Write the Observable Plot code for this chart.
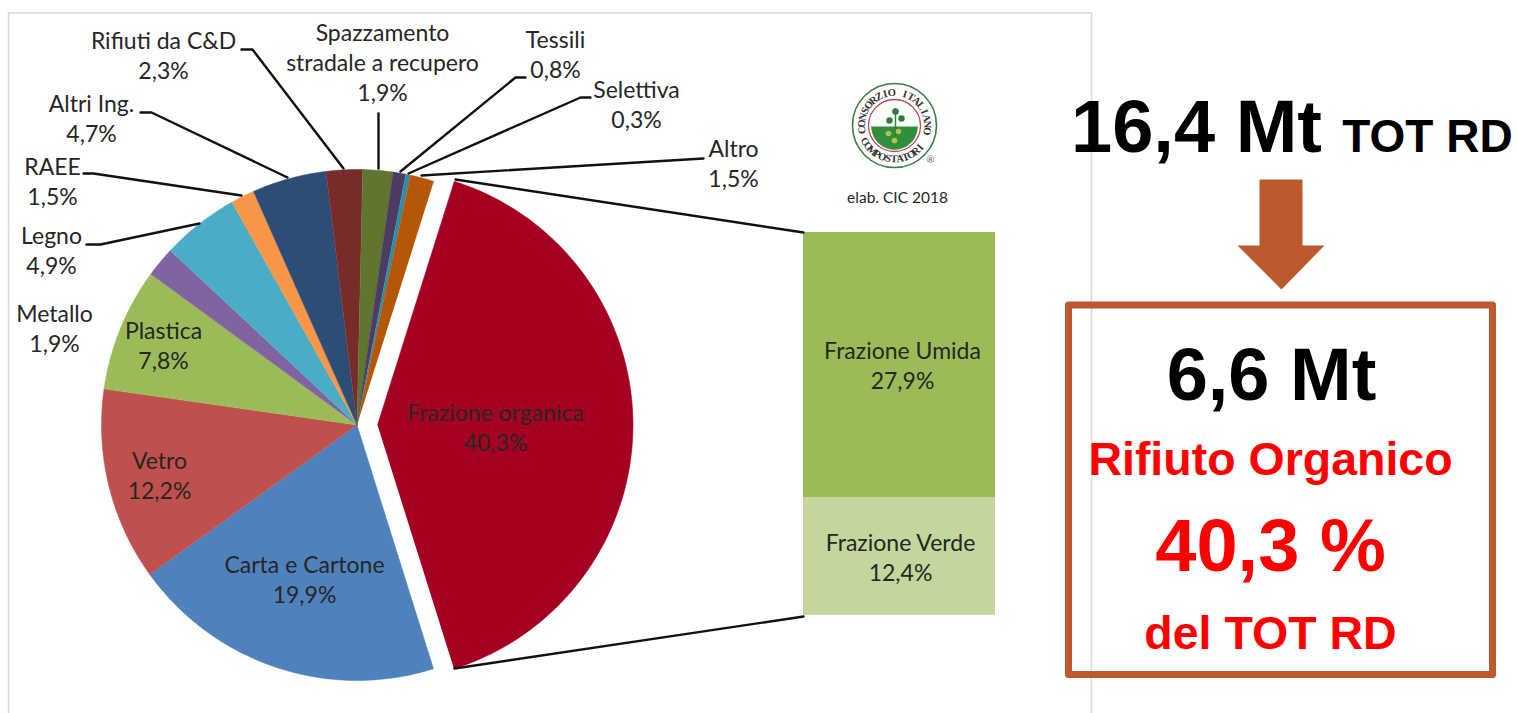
<!DOCTYPE html>
<html><head><meta charset="utf-8">
<script src="https://cdn.jsdelivr.net/npm/d3@7"></script>
<script src="https://cdn.jsdelivr.net/npm/@observablehq/plot@0.6"></script>
<style>html,body{margin:0;padding:0;background:#fff;overflow:hidden}svg{display:block}</style>
</head><body><div id="chart"></div>
<script>
// ---- data ----
const categories = ["Frazione organica","Carta e Cartone","Vetro","Plastica","Metallo","Legno","RAEE","Altri Ing.","Rifiuti da C&D","Spazzamento stradale a recupero","Tessili","Selettiva","Altro"];
const shares = [40.3,19.9,12.2,7.8,1.9,4.9,1.5,4.7,2.3,1.9,0.8,0.3,1.5];
const sliceColors = ["#A50021","#4F81BD","#C0504D","#9BBB59","#8064A2","#4BACC6","#F79646","#2C4D75","#772C2A","#5F7530","#4D3B62","#2C8FA8","#B65708"];
const breakdownNames = ["Frazione Umida","Frazione Verde"];
const breakdownShares = [27.9,12.4];
const breakdownColors = ["#9BBB59","#C3D69B"];
const totalLabel = "16,4 Mt", totalSuffix = "TOT RD";
const organicLabel = "6,6 Mt", organicTitle = "Rifiuto Organico", organicShare = "40,3 %", organicSuffix = "del TOT RD";
const sourceNote = "elab. CIC 2018";

// ---- layout (pixels of the picture, used as the scale domains) ----
const W = 1517, H = 713;
const cx = 356.5, cy = 424.5, R = 255.5, explode = 20.5, startDeg = 17.5;
const barX = [803,995], barTop = 232, pxPerPct = 9.5;
const dark = "#262626", rust = "#BC5A2D", font = "Lato, sans-serif", heavy = "Liberation Sans, Arial, sans-serif";
const labelLayout = [
  ["Rifiuti da C&D\n2,3%",163,54],["Spazzamento\nstradale a recupero\n1,9%",382,61],["Tessili\n0,8%",555,53],
  ["Selettiva\n0,3%",636,103],["Altro\n1,5%",733,162],["Altri Ing.\n4,7%",91,117],["RAEE\n1,5%",52,180],
  ["Legno\n4,9%",51,249],["Metallo\n1,9%",54,327],["Plastica\n7,8%",163,344],["Vetro\n12,2%",159,474],
  ["Carta e Cartone\n19,9%",304,578],["Frazione organica\n40,3%",495,426],["Frazione Umida\n27,9%",902,364],["Frazione Verde\n12,4%",900,556]
];
const leaderLayout = [
  [[241,49],[252,49],[343,168]],[[140,112],[151,112],[287,177]],[[83,173],[93,173],[241,195]],
  [[86,244],[100,244],[199,223]],[[378,113],[378,168]],[[525,77],[515,77],[400,171]],
  [[590,97],[580,97],[408,173]],[[703,158],[421,175]],[[455,179],[803,232]],[[454,668],[803,616]]
];
const arrowOutline = [[1259,179],[1302,179],[1302,245],[1324,245],[1281,289],[1237,245],[1259,245]];

// ---- derived tables ----
const total = d3.sum(shares);
let acc = startDeg;
const slicePts = [];
categories.forEach((name,i)=>{
  const a0 = acc, a1 = acc + shares[i]/total*360; acc = a1;
  const off = i===0 ? explode : 0;
  const steps = Math.max(2,Math.ceil(a1-a0));
  slicePts.push({name,x:cx+off,y:cy});
  for(let k=0;k<=steps;k++){
    const a=(a0+(a1-a0)*k/steps)*Math.PI/180;
    slicePts.push({name,x:cx+off+R*Math.sin(a),y:cy-R*Math.cos(a)});
  }
});
let cum=0;
const bars = breakdownNames.map((name,i)=>{const d={name,y1:barTop+cum*pxPerPct,y2:barTop+(cum+breakdownShares[i])*pxPerPct};cum+=breakdownShares[i];return d;});
const leaders = leaderLayout.flatMap((p,i)=>p.map(([x,y])=>({i,x,y})));
const arrow = arrowOutline.map(([x,y])=>({x,y}));

// logo
const lx=894, ly=125;
const ringText=(s,a0,a1,r,flip)=>[...s].map((c,i)=>{
  const a=a0+(a1-a0)*i/(s.length-1), t=a*Math.PI/180;
  return {c,x:lx+r*Math.sin(t),y:ly-r*Math.cos(t),a:flip?a-180:a};
}).filter(d=>d.c!==" ");
const letters=[...ringText("CONSORZIO ITALIANO",-98,100,33,false),...ringText("COMPOSTATORI",242,130,33.5,true)];
const halfDisc=d3.range(90,271,6).map(a=>({x:lx+23*Math.sin(a*Math.PI/180),y:ly+1-23*Math.cos(a*Math.PI/180)}));
const leaves=[{x:895,y:111,r:4.2},{x:889,y:120,r:4},{x:901,y:118,r:4}];
const seeds=[{x:888,y:133,r:3},{x:898,y:131,r:3},{x:894,y:140,r:3.2}];

const txt=(s,x,y,o={})=>Plot.text([s],{x:()=>x,y:()=>y,text:d=>d,fontFamily:font,fontSize:23,fill:dark,textAnchor:"middle",lineAnchor:"middle",lineHeight:1.3,...o});
const big={fontFamily:heavy,fontWeight:700,fontSize:74,fill:"#000"};
const mid={fontFamily:heavy,fontWeight:700,fontSize:46.5,fill:"#f00"};

const plot = Plot.plot({
  width:W,height:H,margin:0,
  x:{domain:[0,W],range:[0,W],axis:null},
  y:{domain:[0,H],range:[0,H],axis:null},
  color:{type:"ordinal",domain:[...categories,...breakdownNames],range:[...sliceColors,...breakdownColors]},
  style:{background:"#fff"},
  marks:[
    Plot.ruleX([8,1091],{x:d=>d,y1:12,y2:H,stroke:"#d9d9d9",strokeWidth:1.5}),
    Plot.ruleY([12.5],{y:d=>d,x1:8,x2:1091,stroke:"#d9d9d9",strokeWidth:1.5}),
    Plot.line(slicePts,{x:"x",y:"y",z:"name",fill:"name",stroke:"name",strokeWidth:0.5}),
    Plot.rect(bars,{x1:barX[0],x2:barX[1],y1:"y1",y2:"y2",fill:"name"}),
    Plot.line(leaders,{x:"x",y:"y",z:"i",stroke:"#111",strokeWidth:2.4}),
    ...labelLayout.map(([s,x,y])=>txt(s,x,y)),
    // logo
    Plot.dot([0],{x:()=>lx,y:()=>ly,r:42,fill:"#fff",stroke:"#3c7f45",strokeWidth:1.6}),
    Plot.dot([0],{x:()=>lx,y:()=>ly,r:26,fill:"#fff",stroke:"#b9474f",strokeWidth:1.3}),
    Plot.line(halfDisc,{x:"x",y:"y",fill:"#2f8f3a",stroke:"#2f8f3a",strokeWidth:0.5}),
    Plot.ruleX([895],{x:d=>d,y1:108,y2:136,stroke:"#2d7c3a",strokeWidth:1.4}),
    Plot.dot(leaves,{x:"x",y:"y",r:"r",fill:"#2d7c3a"}),
    Plot.dot(seeds,{x:"x",y:"y",r:"r",fill:"#b9bf4a"}),
    Plot.text(letters,{x:"x",y:"y",text:"c",rotate:"a",fontFamily:"Liberation Serif, serif",fontWeight:700,fontSize:10.5,fill:"#333"}),
    Plot.text(["®"],{x:()=>930,y:()=>159,text:d=>d,fontSize:10,fill:"#666",fontFamily:font}),
    txt(sourceNote,897,196,{fontSize:15.5}),
    // right panel
    Plot.line(arrow,{x:"x",y:"y",fill:rust,stroke:"none"}),
    Plot.rect([0],{x1:()=>1068.5,x2:()=>1492.5,y1:()=>305,y2:()=>674.5,fill:"none",stroke:rust,strokeWidth:7,strokeLinejoin:"round"}),
    txt(totalLabel,1196,120.5,big),
    txt(totalSuffix,1427,132,{...mid,fontSize:46,fill:"#000"}),
    txt(organicLabel,1271,369,big),
    txt(organicTitle,1270,455,mid),
    txt(organicShare,1270,540,{...big,fill:"#f00"}),
    txt(organicSuffix,1270,629,mid)
  ]
});
document.getElementById("chart").append(plot);
</script></body></html>
